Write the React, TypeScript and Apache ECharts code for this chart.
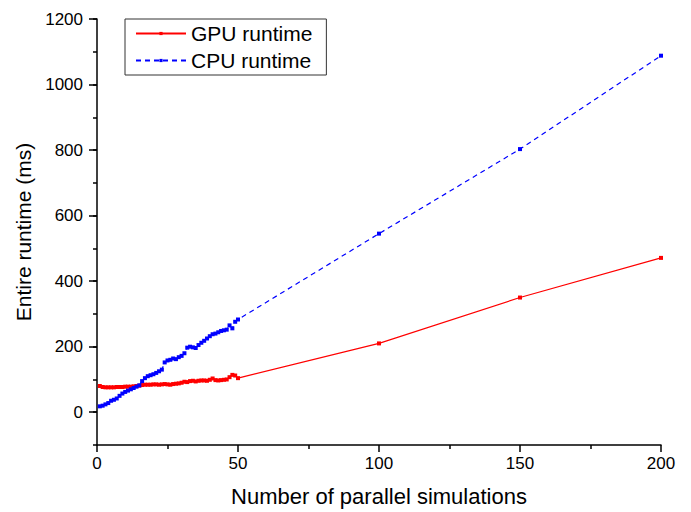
import React, { useEffect, useRef } from "react";
import * as echarts from "echarts";

const simCounts: number[] = [
  1, 2, 3, 4, 5, 6, 7, 8, 9, 10, 11, 12, 13, 14, 15, 16, 17, 18, 19, 20,
  21, 22, 23, 24, 25, 26, 27, 28, 29, 30, 31, 32, 33, 34, 35, 36, 37, 38, 39, 40,
  41, 42, 43, 44, 45, 46, 47, 48, 49, 50, 100, 150, 200,
];

const gpuRuntime: number[] = [
  80, 77, 76, 76, 76, 76, 77, 77, 77, 78, 78, 78, 79, 80, 81, 83, 84, 84, 84, 85,
  85, 84, 85, 86, 85, 84, 86, 87, 88, 90, 93, 92, 95, 96, 94, 96, 97, 97, 96, 99,
  103, 98, 97, 98, 99, 100, 107, 114, 112, 104, 210, 350, 471,
];

const cpuRuntime: number[] = [
  18, 20, 24, 28, 35, 38, 42, 50, 57, 62, 66, 70, 74, 78, 82, 95, 104, 110, 113, 116,
  120, 125, 130, 152, 158, 160, 164, 162, 168, 172, 180, 197, 200, 198, 196, 205, 212, 218, 225, 232,
  238, 240, 244, 248, 250, 252, 265, 256, 276, 283, 545, 803, 1088,
];

const yMajorTicks: number[] = [0, 200, 400, 600, 800, 1000, 1200];

const FONT = "'Liberation Sans', Arial, sans-serif";

export default function App() {
  const ref = useRef<HTMLDivElement>(null);
  useEffect(() => {
    if (!ref.current) return;
    const chart = echarts.init(ref.current, null, { renderer: "svg" });
    const pair = (ys: number[]) => simCounts.map((x, i) => [x, ys[i]]);
    chart.setOption({
      animation: false,
      backgroundColor: "#ffffff",
      textStyle: { fontFamily: FONT },
      grid: { left: 97, right: 30, top: 19, bottom: 65 },
      legend: {
        left: 125,
        top: 19,
        orient: "vertical",
        borderColor: "#333",
        borderWidth: 1,
        padding: [4, 14, 4, 10],
        itemGap: 6,
        itemWidth: 50,
        itemHeight: 4,
        textStyle: { fontSize: 21, color: "#000", fontFamily: FONT },
        data: ["GPU runtime", "CPU runtime"],
      },
      xAxis: {
        type: "value",
        min: 0,
        max: 200,
        interval: 50,
        name: "Number of parallel simulations",
        nameLocation: "middle",
        nameGap: 40,
        nameTextStyle: { fontSize: 22, color: "#000", fontFamily: FONT },
        axisLine: { onZero: false, lineStyle: { color: "#000", width: 1.5 } },
        axisTick: { inside: false, length: 7, lineStyle: { color: "#000", width: 1.5 } },
        minorTick: { show: true, splitNumber: 2, length: 4, lineStyle: { color: "#000", width: 1.5 } },
        axisLabel: { fontSize: 17, color: "#000", margin: 10, fontFamily: FONT },
        splitLine: { show: false },
      },
      yAxis: [
        {
          type: "value",
          min: -100,
          max: 1200,
          interval: 100,
          position: "left",
          axisLine: { onZero: false, lineStyle: { color: "#000", width: 1.5 } },
          axisTick: { inside: false, length: 4, lineStyle: { color: "#000", width: 1.5 } },
          axisLabel: { show: false },
          splitLine: { show: false },
        },
        {
          type: "value",
          min: -100,
          max: 1200,
          position: "left",
          name: "Entire runtime (ms)",
          nameLocation: "middle",
          nameGap: 56,
          nameTextStyle: { fontSize: 21, color: "#000", fontFamily: FONT },
          axisLine: { show: false, onZero: false },
          axisTick: {
            show: true,
            inside: false,
            length: 8,
            customValues: yMajorTicks,
            lineStyle: { color: "#000", width: 1.5 },
          },
          axisLabel: {
            fontSize: 17,
            color: "#000",
            margin: 14,
            customValues: yMajorTicks,
            formatter: (v: number) => String(v),
            fontFamily: FONT,
          },
          splitLine: { show: false },
        },
      ],
      series: [
        {
          name: "GPU runtime",
          type: "line",
          yAxisIndex: 0,
          data: pair(gpuRuntime),
          color: "#ff0000",
          symbol: "rect",
          symbolSize: 4,
          showAllSymbol: true,
          lineStyle: { color: "#ff0000", width: 1.2, type: "solid" },
          itemStyle: { color: "#ff0000" },
          z: 3,
        },
        {
          name: "CPU runtime",
          type: "line",
          yAxisIndex: 0,
          data: pair(cpuRuntime),
          color: "#0000ff",
          symbol: "rect",
          symbolSize: 4,
          showAllSymbol: true,
          lineStyle: { color: "#0000ff", width: 1.2, type: [5, 4] },
          itemStyle: { color: "#0000ff" },
          z: 4,
        },
      ],
    });
    return () => chart.dispose();
  }, []);
  return (
    <div
      ref={ref}
      style={{ position: "fixed", left: 0, top: 0, width: 691, height: 512, background: "#fff" }}
    />
  );
}
